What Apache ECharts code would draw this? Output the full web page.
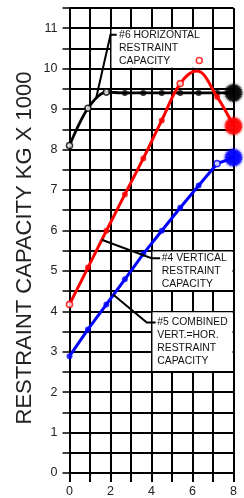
<!DOCTYPE html>
<html><head><meta charset="utf-8">
<script src="https://cdn.jsdelivr.net/npm/echarts@6/dist/echarts.min.js"></script>
<style>html,body{margin:0;padding:0;background:#fff}#c{width:244px;height:498px}</style>
</head><body><div id="c"></div>
<script>
// ---- data ----
const xTicks = [0, 2, 4, 6, 8];
const yTicks = [0,1,2,3,4,5,6,7,8,9,10,11];
const pointX = [0, 0.9, 1.8, 2.7, 3.6, 4.5, 5.4, 6.3, 7.2, 8];
const horizY = [8.10, 9.02, 9.42, 9.40, 9.40, 9.40, 9.40, 9.40, 9.40, 9.40];   // #6
const combY  = [2.89, 3.55, 4.17, 4.79, 5.42, 5.99, 6.56, 7.11, 7.65, 7.80];   // #5
const vertCurveX = [0, 0.9, 1.8, 2.7, 3.6, 4.5, 5.4, 6.2, 7.2, 8];
const vertCurveY = [4.17, 5.08, 5.99, 6.89, 7.78, 8.72, 9.63, 9.94, 9.30, 8.58]; // #4 curve
const vertPtsX = [0, 0.9, 1.8, 2.7, 3.6, 4.5, 5.4, 6.33, 7.2, 8];
const vertPtsY = [4.17, 5.08, 5.99, 6.89, 7.78, 8.72, 9.63, 10.20, 9.30, 8.58];
const horizOpen = [0, 1, 2];
const vertOpen = [0, 6, 7];
const combOpen = [8];
const labels = {
  horiz: ['#6 HORIZONTAL', 'RESTRAINT', 'CAPACITY'],
  vert: ['#4 VERTICAL', 'RESTRAINT', 'CAPACITY'],
  comb: ['#5 COMBINED', 'VERT.=HOR.', 'RESTRAINT', 'CAPACITY']
};
const yTitle = 'RESTRAINT CAPACITY KG X 1000';

// ---- helpers ----
function burst(n, r1, r2) {
  let d = '';
  for (let i = 0; i < 2 * n; i++) {
    const r = i % 2 ? r2 : r1;
    const a = Math.PI * i / n;
    d += (i ? 'L' : 'M') + (50 + 50 * r * Math.cos(a)).toFixed(2) + ' ' + (50 + 50 * r * Math.sin(a)).toFixed(2);
  }
  return 'path://' + d + 'Z';
}
const BURST = burst(30, 1, 0.8);
function markers(xs, ys, color, openIdx) {
  return xs.map((x, i) => {
    const last = i === xs.length - 1;
    const open = openIdx.indexOf(i) >= 0;
    return {
      value: [x, ys[i]],
      symbol: last ? BURST : 'circle',
      symbolSize: last ? 19 : 6,
      itemStyle: last ? {color: color, borderWidth: 0, shadowBlur: 3, shadowColor: color}
        : open ? {color: '#fff', borderColor: color, borderWidth: 1.6}
        : {color: color, borderWidth: 0}
    };
  });
}
const zip = (a, b) => a.map((v, i) => [v, b[i]]);
const FONT = '"Liberation Sans", Arial, sans-serif';

const chart = echarts.init(document.getElementById('c'), null, {renderer: 'canvas'});
chart.setOption({
  animation: false,
  grid: {left: 69.5, right: 10.5, top: 8, bottom: 19.7, containLabel: false},
  xAxis: {
    type: 'value', min: 0, max: 8, interval: 1,
    axisLine: {show: true, onZero: false, lineStyle: {color: '#000', width: 2}},
    axisTick: {show: true, length: 9, lineStyle: {color: '#000', width: 2}},
    axisLabel: {margin: 12, color: '#222', fontSize: 12.5, fontFamily: FONT,
      formatter: v => xTicks.indexOf(v) >= 0 ? String(v) : ''},
    splitLine: {show: true, lineStyle: {color: '#000', width: 2}}
  },
  yAxis: {
    type: 'value', min: 0, max: 11.5, interval: 0.5,
    axisLine: {show: true, onZero: false, lineStyle: {color: '#000', width: 2}},
    axisTick: {show: true, length: 7, lineStyle: {color: '#000', width: 1.5}},
    axisLabel: {margin: 12, color: '#222', fontSize: 12.5, fontFamily: FONT,
      formatter: v => yTicks.indexOf(v) >= 0 ? String(v) : ''},
    splitLine: {show: true, lineStyle: {color: '#000', width: 2}}
  },
  series: [
    {type: 'line', data: zip(pointX, horizY), smooth: 0.3, symbol: 'none',
      lineStyle: {color: '#000', width: 2.8}, z: 3},
    {type: 'scatter', data: markers(pointX, horizY, '#000', horizOpen), z: 4},
    {type: 'line', data: zip(vertCurveX, vertCurveY), smooth: 0.4, symbol: 'none',
      lineStyle: {color: '#ff0000', width: 3}, z: 5},
    {type: 'scatter', data: markers(vertPtsX, vertPtsY, '#ff0000', vertOpen), z: 6},
    {type: 'line', data: zip(pointX, combY), symbol: 'none',
      lineStyle: {color: '#0000ff', width: 3}, z: 7},
    {type: 'scatter', data: markers(pointX, combY, '#0000ff', combOpen), z: 8}
  ]
});

// ---- annotations anchored in data coordinates ----
const P = (x, y) => chart.convertToPixel({gridIndex: 0}, [x, y]);
const notes = [
  {lines: labels.horiz, box: [2, 11, 7, 10], textX: 2.42, firstY: 10.84, lineGap: 13,
    leader: [[1.29, 9.25], [2, 10.84], [2.3, 10.84]]},
  {lines: labels.vert, box: [4, 5.5, 8, 4.5], textX: 4.5, firstY: 5.31, lineGap: 13,
    leader: [[1.57, 5.77], [4, 5.31], [4.42, 5.31]]},
  {lines: labels.comb, box: [4, 4, 8, 2.5], textX: 4.28, firstY: 3.72, lineGap: 12.8,
    leader: [[2.14, 4.41], [3.77, 3.72], [4.2, 3.72]]}
];
const g = [];
notes.forEach(n => {
  const a = P(n.box[0], n.box[1]), b = P(n.box[2], n.box[3]);
  g.push({type: 'rect', z: 1, shape: {x: a[0] + 1, y: a[1] + 1, width: b[0] - a[0] - 2, height: b[1] - a[1] - 2},
    style: {fill: '#fff', stroke: null}});
  g.push({type: 'polyline', z: 100, shape: {points: n.leader.map(p => P(p[0], p[1]))},
    style: {stroke: '#000', lineWidth: 2, fill: null}});
  const t = P(n.textX, n.firstY);
  n.lines.forEach((s, i) => {
    g.push({type: 'text', z: 100, x: t[0], y: t[1] + i * n.lineGap,
      style: {text: s, fill: '#111', font: '10.4px ' + FONT, textAlign: 'left', textVerticalAlign: 'middle'}});
  });
});
g.push({type: 'text', z: 100, x: 25, y: 248, rotation: Math.PI / 2,
  style: {text: yTitle, fill: '#222', font: '22px ' + FONT, textAlign: 'center', textVerticalAlign: 'middle'}});
chart.setOption({graphic: g});
</script></body></html>
